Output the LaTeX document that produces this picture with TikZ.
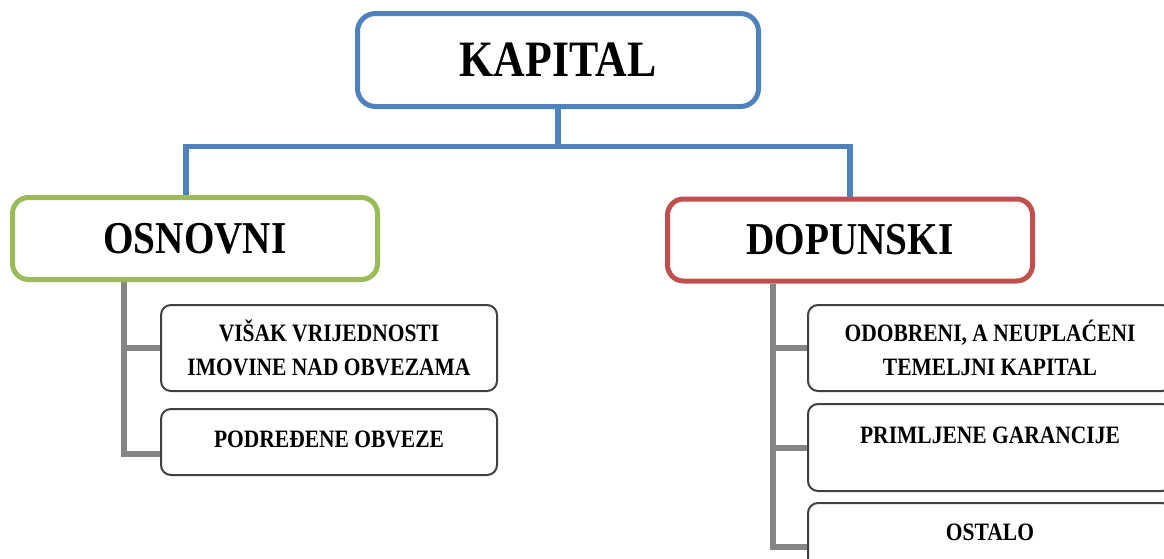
\documentclass[tikz,border=0pt]{standalone}
\usepackage{fontspec}
\setmainfont{Liberation Serif}[FakeStretch=0.86]
\usepackage{tikz}
\usetikzlibrary{positioning}
\definecolor{kblue}{HTML}{4F81BD}
\definecolor{kgreen}{HTML}{9BBB59}
\definecolor{kred}{HTML}{C0504D}
\definecolor{kgray}{HTML}{858585}

\begin{document}
\begin{tikzpicture}[x=.5pt,y=-.5pt,
  top/.style={draw=kblue,line width=2.5pt,rounded corners=9pt,minimum width=200.5pt,minimum height=46.5pt,font=\fontsize{25.5}{30}\selectfont\bfseries},
  mid/.style={line width=2.5pt,rounded corners=8pt,minimum width=182.5pt,minimum height=41pt,font=\fontsize{22.8}{27}\selectfont\bfseries},
  sub/.style={draw=black!75,line width=1pt,rounded corners=5pt,align=center,font=\fontsize{12.5}{17}\selectfont\bfseries},
  bluelink/.style={draw=kblue,line width=2.75pt},
  graylink/.style={draw=kgray,line width=3pt}]
\useasboundingbox (0,0) rectangle (1164,558);
\clip (0,0) rectangle (1164,558);
\node[top] (kap) at (558,60) {KAPITAL};
\node[mid,draw=kgreen] (osn) at (195,238.5) {OSNOVNI};
\node[mid,draw=kred] (dop) at (850,240) {DOPUNSKI};
\node[sub,minimum width=168pt,minimum height=43pt] (vis) at (329,348) {VIŠAK VRIJEDNOSTI\\IMOVINE NAD OBVEZAMA};
\node[sub,minimum width=168pt,minimum height=33pt,text height=8.5pt,text depth=3.5pt] (pod) at (329,442) {PODREĐENE OBVEZE};
\node[sub,minimum width=182pt,minimum height=43pt] (odo) at (990,348) {ODOBRENI, A NEUPLAĆENI\\TEMELJNI KAPITAL};
\node[sub,minimum width=182pt,minimum height=43.5pt,text height=8.5pt,text depth=13pt] (pri) at (990,447.5) {PRIMLJENE GARANCIJE};
\node[sub,minimum width=182pt,minimum height=43.5pt,text height=8.5pt,text depth=15pt] (ost) at (990,546.5) {OSTALO};
\coordinate (bus) at (558,146.5);
\draw[bluelink] (kap.south) -- (bus);
\draw[bluelink] ([xshift=-4.5pt]osn.north) |- (bus) -| (dop.north);
\draw[graylink] ([xshift=-35.5pt]osn.south) |- (vis.west);
\draw[graylink] ([xshift=-35.5pt]osn.south) |- ([yshift=-6pt]pod.west);
\draw[graylink] ([xshift=-38.5pt]dop.south) |- (odo.west);
\draw[graylink] ([xshift=-38.5pt]dop.south) |- (pri.west);
\draw[graylink] ([xshift=-38.5pt]dop.south) |- (ost.west);
\end{tikzpicture}
\end{document}
